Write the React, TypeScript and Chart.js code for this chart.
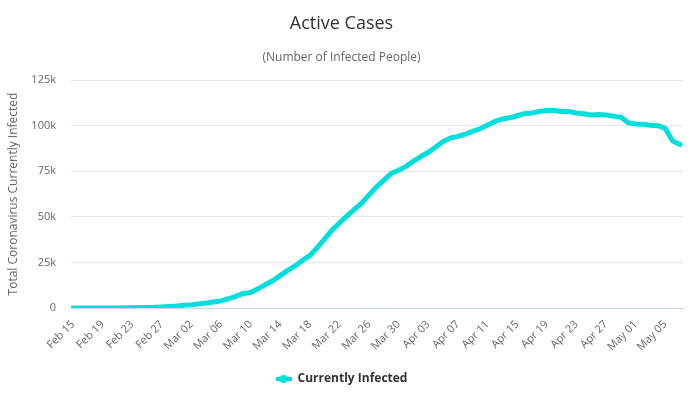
import { useEffect, useRef } from 'react';
import { Chart, registerables } from 'chart.js';

Chart.register(...registerables);

const FONT = '"Open Sans", "DejaVu Sans", sans-serif';

const chartTitle = 'Active Cases';
const chartSubtitle = '(Number of Infected People)';
const yAxisTitle = 'Total Coronavirus Currently Infected';
const seriesName = 'Currently Infected';

const dates = [
  'Feb 15', 'Feb 16', 'Feb 17', 'Feb 18', 'Feb 19', 'Feb 20', 'Feb 21', 'Feb 22', 'Feb 23', 'Feb 24',
  'Feb 25', 'Feb 26', 'Feb 27', 'Feb 28', 'Feb 29',
  'Mar 01', 'Mar 02', 'Mar 03', 'Mar 04', 'Mar 05', 'Mar 06', 'Mar 07', 'Mar 08', 'Mar 09', 'Mar 10',
  'Mar 11', 'Mar 12', 'Mar 13', 'Mar 14', 'Mar 15', 'Mar 16', 'Mar 17', 'Mar 18', 'Mar 19', 'Mar 20',
  'Mar 21', 'Mar 22', 'Mar 23', 'Mar 24', 'Mar 25', 'Mar 26', 'Mar 27', 'Mar 28', 'Mar 29', 'Mar 30', 'Mar 31',
  'Apr 01', 'Apr 02', 'Apr 03', 'Apr 04', 'Apr 05', 'Apr 06', 'Apr 07', 'Apr 08', 'Apr 09', 'Apr 10',
  'Apr 11', 'Apr 12', 'Apr 13', 'Apr 14', 'Apr 15', 'Apr 16', 'Apr 17', 'Apr 18', 'Apr 19', 'Apr 20',
  'Apr 21', 'Apr 22', 'Apr 23', 'Apr 24', 'Apr 25', 'Apr 26', 'Apr 27', 'Apr 28', 'Apr 29', 'Apr 30',
  'May 01', 'May 02', 'May 03', 'May 04', 'May 05', 'May 06', 'May 07',
];

const activeCases = [
  3, 3, 3, 3, 3, 3, 19, 76, 150, 221,
  311, 385, 588, 821, 1049,
  1577, 1835, 2263, 2706, 3296, 3916, 5061, 6387, 7985, 8514,
  10590, 12839, 14955, 17750, 20603, 23073, 26062, 28710, 33190, 37860,
  42681, 46638, 50418, 54030, 57521, 62013, 66414, 70065, 73880, 75528, 77635,
  80572, 83049, 85388, 88274, 91246, 93187, 94067, 95262, 96877, 98273,
  100269, 102253, 103616, 104291, 105418, 106607, 106962, 107771, 108257, 108237,
  107709, 107699, 106848, 106527, 105847, 106103, 105813, 105205, 104657, 101551,
  100943, 100704, 100179, 99980, 98467, 91528, 89624,
];

const xTickIndexes = [0, 4, 8, 12, 16, 20, 24, 28, 32, 36, 40, 44, 48, 52, 56, 60, 64, 68, 72, 76, 80];
const yTickValues = [0, 25000, 50000, 75000, 100000, 125000];

const LINE_COLOR = '#00dfdb';

export default function App() {
  const ref = useRef<HTMLCanvasElement>(null);

  useEffect(() => {
    document.body.style.margin = '0';
    const marker = document.createElement('canvas');
    marker.width = 16;
    marker.height = 10;
    const mctx = marker.getContext('2d')!;
    mctx.strokeStyle = LINE_COLOR;
    mctx.lineWidth = 4;
    mctx.beginPath();
    mctx.moveTo(0, 5);
    mctx.lineTo(16, 5);
    mctx.stroke();
    mctx.fillStyle = LINE_COLOR;
    mctx.beginPath();
    mctx.arc(8, 5, 4, 0, Math.PI * 2);
    mctx.fill();

    const chart = new Chart(ref.current!, {
      type: 'line',
      data: {
        datasets: [
          {
            label: seriesName,
            data: activeCases.map((y, i) => ({ x: i, y })),
            borderColor: LINE_COLOR,
            backgroundColor: LINE_COLOR,
            borderWidth: 5,
            pointRadius: 0,
            pointHoverRadius: 0,
            tension: 0,
            fill: false,
            borderJoinStyle: 'round',
            borderCapStyle: 'round',
          },
        ],
      },
      options: {
        animation: false,
        responsive: false,
        devicePixelRatio: 1,
        layout: { padding: { left: 0, right: 15, top: 0, bottom: 0 } },
        scales: {
          x: {
            type: 'linear',
            min: -0.27,
            max: 82.4,
            afterBuildTicks: (s: any) => {
              s.ticks = xTickIndexes.map((v) => ({ value: v }));
            },
            afterFit: (s: any) => {
              s.height = 56;
            },
            ticks: {
              autoSkip: false,
              minRotation: 45,
              maxRotation: 45,
              padding: 2,
              color: '#666666',
              font: { family: FONT, size: 11 },
              callback: (v: any) => dates[v as number] ?? '',
            },
            grid: { display: false },
            border: { display: true, color: '#ccd6eb', width: 1 },
          },
          y: {
            min: 0,
            max: 125000,
            afterBuildTicks: (s: any) => {
              s.ticks = yTickValues.map((v) => ({ value: v }));
            },
            afterFit: (s: any) => {
              s.width = 71;
            },
            ticks: {
              padding: 15,
              color: '#666666',
              font: { family: FONT, size: 11 },
              callback: (v: any) => (v === 0 ? '0' : `${(v as number) / 1000}k`),
            },
            grid: { color: '#e6e6e6', drawTicks: false },
            border: { display: false },
            title: {
              display: true,
              text: yAxisTitle,
              color: '#666666',
              font: { family: FONT, size: 12 },
              padding: { top: 6, bottom: 0 },
            },
          },
        },
        plugins: {
          title: {
            display: true,
            text: chartTitle,
            color: '#333333',
            font: { family: FONT, size: 18, weight: 'normal' },
            padding: { top: 13, bottom: 16 },
          },
          subtitle: {
            display: true,
            text: chartSubtitle,
            color: '#666666',
            font: { family: FONT, size: 12 },
            padding: { top: 0, bottom: 15 },
          },
          legend: {
            position: 'bottom',
            labels: {
              usePointStyle: true,
              pointStyleWidth: 16,
              color: '#333333',
              font: { family: FONT, size: 12, weight: 'bold' },
              padding: 9,
              generateLabels: () => [
                {
                  text: seriesName,
                  pointStyle: marker as any,
                  fillStyle: LINE_COLOR,
                  strokeStyle: LINE_COLOR,
                  lineWidth: 0,
                  hidden: false,
                  datasetIndex: 0,
                  fontColor: '#333333',
                },
              ],
            },
          },
          tooltip: { enabled: false },
        },
      },
    });
    return () => chart.destroy();
  }, []);

  return (
    <div style={{ width: 698, height: 395 }}>
      <canvas ref={ref} width={698} height={395} style={{ display: 'block' }} />
    </div>
  );
}
